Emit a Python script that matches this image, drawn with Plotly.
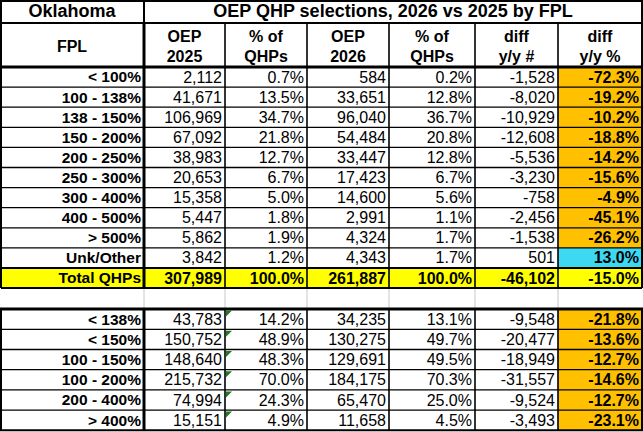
import plotly.graph_objects as go

# ---------------- data ----------------
state = "Oklahoma"
title = "OEP QHP selections, 2026 vs 2025 by FPL"
col_headers = ["FPL", "OEP<br>2025", "% of<br>QHPs", "OEP<br>2026", "% of<br>QHPs", "diff<br>y/y #", "diff<br>y/y %"]

fpl_labels = ["< 100%", "100 - 138%", "138 - 150%", "150 - 200%", "200 - 250%",
              "250 - 300%", "300 - 400%", "400 - 500%", "> 500%", "Unk/Other"]
oep2025 = [2112, 41671, 106969, 67092, 38983, 20653, 15358, 5447, 5862, 3842]
pct2025 = [0.7, 13.5, 34.7, 21.8, 12.7, 6.7, 5.0, 1.8, 1.9, 1.2]
oep2026 = [584, 33651, 96040, 54484, 33447, 17423, 14600, 2991, 4324, 4343]
pct2026 = [0.2, 12.8, 36.7, 20.8, 12.8, 6.7, 5.6, 1.1, 1.7, 1.7]
diff_n = [-1528, -8020, -10929, -12608, -5536, -3230, -758, -2456, -1538, 501]
diff_pct = [-72.3, -19.2, -10.2, -18.8, -14.2, -15.6, -4.9, -45.1, -26.2, 13.0]

total_label = "Total QHPs"
total_vals = [307989, 100.0, 261887, 100.0, -46102, -15.0]

sub_labels = ["< 138%", "< 150%", "100 - 150%", "100 - 200%", "200 - 400%", "> 400%"]
sub2025 = [43783, 150752, 148640, 215732, 74994, 15151]
subpct2025 = [14.2, 48.9, 48.3, 70.0, 24.3, 4.9]
sub2026 = [34235, 130275, 129691, 184175, 65470, 11658]
subpct2026 = [13.1, 49.7, 49.5, 70.3, 25.0, 4.5]
subdiff = [-9548, -20477, -18949, -31557, -9524, -3493]
subdiffpct = [-21.8, -13.6, -12.7, -14.6, -12.7, -23.1]

# ---------------- layout constants ----------------
W, H = 643, 432
col_edges = [0, 144, 225, 307, 389, 475, 558, 642]
y_title = (0, 23)
y_head = (23, 67)
rh_top = 20.1
top_start = 67
blank_h = 21
rh_bot = 20.2

FONT = "Liberation Sans, Arial, sans-serif"
BODY_SIZE = 16
ORANGE = "#FFC000"
CYAN = "#3DD8F2"
YELLOW = "#FFFF00"

top_rows = []
for i in range(len(fpl_labels) + 1):
    top_rows.append((top_start + i * rh_top, top_start + (i + 1) * rh_top))
blank_y0 = top_rows[-1][1]
blank_y1 = blank_y0 + blank_h
bot_rows = []
for i in range(len(sub_labels)):
    bot_rows.append((blank_y1 + i * rh_bot, blank_y1 + (i + 1) * rh_bot))


def fmt_n(v):
    return f"{v:,}"


def fmt_p(v):
    return f"{v:.1f}%"


rows = []
for i, lab in enumerate(fpl_labels):
    txt = [lab, fmt_n(oep2025[i]), fmt_p(pct2025[i]), fmt_n(oep2026[i]),
           fmt_p(pct2026[i]), fmt_n(diff_n[i]), fmt_p(diff_pct[i])]
    fills = [None] * 6 + [ORANGE if diff_pct[i] < 0 else CYAN]
    bold = [True] + [False] * 5 + [True]
    rows.append((top_rows[i], txt, fills, bold))
tv = total_vals
rows.append((top_rows[-1],
             [total_label, fmt_n(tv[0]), fmt_p(tv[1]), fmt_n(tv[2]), fmt_p(tv[3]), fmt_n(tv[4]), fmt_p(tv[5])],
             [YELLOW] * 7, [True] * 7))
for i, lab in enumerate(sub_labels):
    txt = [lab, fmt_n(sub2025[i]), fmt_p(subpct2025[i]), fmt_n(sub2026[i]),
           fmt_p(subpct2026[i]), fmt_n(subdiff[i]), fmt_p(subdiffpct[i])]
    fills = [None] * 6 + [ORANGE if subdiffpct[i] < 0 else CYAN]
    bold = [True] + [False] * 5 + [True]
    rows.append((bot_rows[i], txt, fills, bold))

fig = go.Figure()
shapes = []

for (y0, y1), txt, fills, bold in rows:
    for c, f in enumerate(fills):
        if f:
            shapes.append(dict(type="rect", xref="x", yref="y", x0=col_edges[c], x1=col_edges[c + 1],
                               y0=y0, y1=y1, fillcolor=f, line=dict(width=0), layer="below"))

for c in range(7):
    xs, ys, ts = [], [], []
    for (y0, y1), txt, fills, bold in rows:
        xs.append(col_edges[c + 1] - 3)
        ys.append((y0 + y1) / 2 + 1.5)
        t = txt[c]
        ts.append(f"<b>{t}</b>" if bold[c] else t)
    fig.add_trace(go.Scatter(x=xs, y=ys, text=ts, mode="text", textposition="middle left",
                             textfont=dict(family=FONT, size=BODY_SIZE if c else 15.5, color="black"),
                             hoverinfo="skip", showlegend=False))

hx = [(col_edges[c] + col_edges[c + 1]) / 2 for c in range(7)]
fig.add_trace(go.Scatter(x=hx, y=[(y_head[0] + y_head[1]) / 2 + 3] * 7,
                         text=[f"<b>{h}</b>" for h in col_headers], mode="text", textposition="middle center",
                         textfont=dict(family=FONT, size=BODY_SIZE, color="black"),
                         hoverinfo="skip", showlegend=False))
fig.add_trace(go.Scatter(x=[(col_edges[0] + col_edges[1]) / 2, (col_edges[1] + col_edges[-1]) / 2],
                         y=[(y_title[0] + y_title[1]) / 2 + 1] * 2,
                         text=[f"<b>{state}</b>", f"<b>{title}</b>"], mode="text", textposition="middle center",
                         textfont=dict(family=FONT, size=18, color="black"),
                         hoverinfo="skip", showlegend=False))


def hline(y, x0, x1, w, color="black"):
    shapes.append(dict(type="line", xref="x", yref="y", x0=x0, x1=x1, y0=y, y1=y,
                       line=dict(color=color, width=w)))


def vline(x, y0, y1, w, color="black"):
    shapes.append(dict(type="line", xref="x", yref="y", x0=x, x1=x, y0=y0, y1=y1,
                       line=dict(color=color, width=w)))


L, R = col_edges[0] + 1, col_edges[-1]
THIN_V, THIN_H = 1.6, 1.3

for x in col_edges[1:-1]:
    vline(x, blank_y0, blank_y1, 1, "#c8c8c8")

hline(1, L - 1, R + 1, 2)
vline(col_edges[1], y_title[0], y_title[1], 2)
hline(y_title[1], L - 1, R + 1, 2)

top_end = top_rows[-1][1]
for x in col_edges[2:-1]:
    vline(x, y_head[0], top_end, THIN_V)
vline(col_edges[1], y_head[0], top_end, 3)
hline(y_head[1], L - 1, R + 1, 3)
for (y0, y1) in top_rows[:-2]:
    hline(y1, L, R, THIN_H)
hline(top_rows[-1][0], L, R, 2)
hline(top_end, L, R, 2)
vline(L, 0, top_end, 2)
vline(R, 0, top_end, 2)

bot_start, bot_end = bot_rows[0][0], bot_rows[-1][1]
for x in col_edges[2:-1]:
    vline(x, bot_start, bot_end, THIN_V)
vline(col_edges[1], bot_start, bot_end, 3)
hline(bot_start, L - 1, R + 1, 3)
for (y0, y1) in bot_rows[:-1]:
    hline(y1, L, R, THIN_H)
hline(bot_end, L - 1, R + 1, 2)
vline(L, bot_start, bot_end, 2)
vline(R, bot_start, bot_end, 2)

for (y0, y1) in bot_rows:
    x0 = col_edges[2] + 1
    yy = y0 + 1.5
    shapes.append(dict(type="path", xref="x", yref="y",
                       path=f"M {x0},{yy} L {x0 + 6},{yy} L {x0},{yy + 6} Z",
                       fillcolor="#1f7a1f", line=dict(width=0)))

fig.update_layout(
    width=W, height=H, margin=dict(l=0, r=0, t=0, b=0),
    paper_bgcolor="white", plot_bgcolor="white",
    xaxis=dict(range=[0, W], visible=False, fixedrange=True),
    yaxis=dict(range=[H, 0], visible=False, fixedrange=True),
    shapes=shapes, showlegend=False,
)
fig.write_html("out.html", config={"displayModeBar": False},
               post_script="document.body.style.margin='0px';document.body.style.overflow='hidden';")
